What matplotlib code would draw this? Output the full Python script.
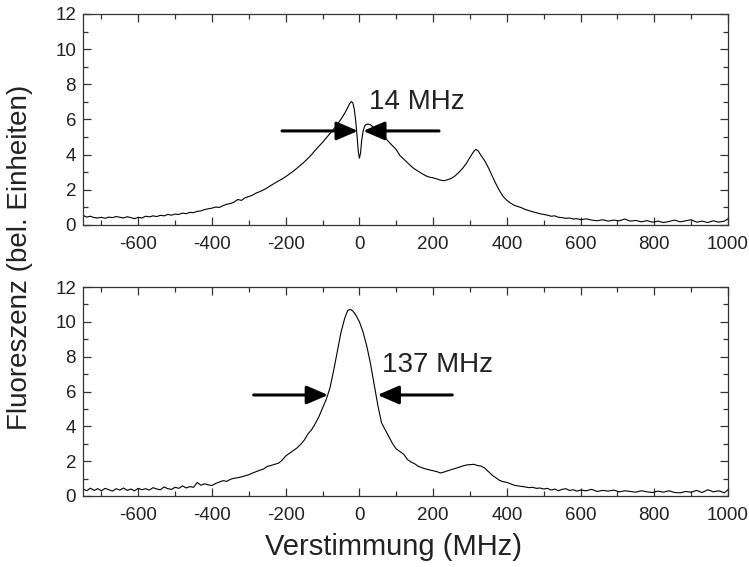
import numpy as np
import matplotlib.pyplot as plt
from matplotlib.ticker import MultipleLocator

plt.rcParams['font.family'] = ['Liberation Sans', 'DejaVu Sans']
plt.rcParams['axes.unicode_minus'] = False

# Fluoreszenzspektren: oben mit Lamb-Dip, unten ohne
det_oben = [-750, -740, -730, -720, -710, -700, -690, -680, -670, -660, -650, -640, -630, -620, -610,
            -600, -590, -580, -570, -560, -550, -540, -530, -520, -510, -500, -490, -480, -470, -460,
            -450, -440, -430, -420, -410, -400, -390, -380, -370, -360, -350, -340, -330, -320, -310,
            -300, -290, -280, -270, -260, -250, -240, -230, -220, -210, -200, -190, -180, -170, -160,
            -150, -140, -130, -120, -110, -100, -90, -80, -70, -60, -50, -40, -32, -26, -22, -18, -14,
            -10, -6, -3, 0, 3, 6, 10, 14, 18, 24, 30, 40, 50, 60, 70, 80, 90, 100, 110, 120, 130, 140,
            150, 160, 170, 180, 190, 200, 210, 220, 230, 240, 250, 260, 270, 280, 290, 300, 310, 316,
            322, 330, 340, 350, 360, 370, 380, 390, 400, 410, 420, 430, 440, 450, 460, 470, 480, 490,
            500, 510, 520, 530, 540, 550, 560, 570, 580, 590, 600, 615, 630, 645, 660, 675, 690, 705,
            720, 735, 750, 765, 780, 795, 810, 825, 840, 855, 870, 885, 900, 915, 930, 945, 960, 975,
            990, 1000]
fl_oben = [0.55, 0.45, 0.50, 0.42, 0.40, 0.44, 0.38, 0.45, 0.42, 0.48, 0.44, 0.40, 0.47, 0.42, 0.36,
           0.44, 0.40, 0.50, 0.46, 0.52, 0.48, 0.55, 0.52, 0.60, 0.56, 0.62, 0.60, 0.68, 0.64, 0.72,
           0.70, 0.78, 0.80, 0.88, 0.92, 0.96, 1.02, 1.00, 1.10, 1.18, 1.22, 1.30, 1.45, 1.40, 1.55,
           1.62, 1.70, 1.82, 1.90, 2.00, 2.12, 2.25, 2.38, 2.50, 2.62, 2.75, 2.90, 3.05, 3.22, 3.40,
           3.58, 3.78, 4.00, 4.25, 4.48, 4.70, 4.95, 5.20, 5.45, 5.72, 6.02, 6.35, 6.68, 6.92, 7.02,
           6.95, 6.60, 5.90, 4.95, 4.15, 3.80, 4.10, 4.80, 5.35, 5.62, 5.72, 5.74, 5.70, 5.52, 5.30,
           5.12, 4.95, 4.72, 4.50, 4.28, 3.95, 3.75, 3.55, 3.35, 3.18, 3.05, 2.92, 2.80, 2.72, 2.68,
           2.62, 2.55, 2.52, 2.58, 2.66, 2.80, 3.00, 3.22, 3.50, 3.85, 4.18, 4.30, 4.22, 3.95, 3.65,
           3.25, 2.80, 2.35, 1.95, 1.62, 1.40, 1.25, 1.12, 1.05, 0.98, 0.88, 0.82, 0.75, 0.70, 0.64,
           0.60, 0.56, 0.50, 0.52, 0.44, 0.42, 0.38, 0.40, 0.34, 0.36, 0.30, 0.35, 0.28, 0.24, 0.30,
           0.22, 0.28, 0.24, 0.34, 0.22, 0.26, 0.18, 0.25, 0.16, 0.22, 0.14, 0.20, 0.28, 0.18, 0.24,
           0.30, 0.16, 0.22, 0.14, 0.24, 0.16, 0.22, 0.35]

det_unten = [-750, -740, -730, -720, -710, -700, -690, -680, -670, -660, -650, -640, -630, -620, -610,
             -600, -590, -580, -570, -560, -550, -540, -530, -520, -510, -500, -490, -480, -470, -460,
             -450, -440, -430, -420, -410, -400, -390, -380, -370, -360, -350, -340, -330, -320, -310,
             -300, -290, -280, -270, -260, -250, -240, -230, -220, -210, -200, -190, -180, -170, -160,
             -150, -140, -130, -120, -110, -100, -90, -80, -70, -60, -50, -40, -32, -25, -18, -10, 0,
             10, 20, 30, 40, 50, 60, 70, 80, 90, 100, 110, 120, 130, 140, 150, 160, 170, 180, 190, 200,
             210, 220, 230, 240, 250, 260, 270, 280, 290, 300, 310, 320, 330, 340, 350, 360, 370, 380,
             390, 400, 410, 420, 430, 440, 450, 460, 470, 480, 490, 500, 510, 520, 530, 540, 550, 560,
             570, 580, 590, 600, 615, 630, 645, 660, 675, 690, 705, 720, 735, 750, 765, 780, 795, 810,
             825, 840, 855, 870, 885, 900, 915, 930, 945, 960, 975, 990, 1000]
fl_unten = [0.40, 0.30, 0.45, 0.32, 0.42, 0.30, 0.44, 0.36, 0.28, 0.42, 0.34, 0.46, 0.32, 0.40, 0.30,
            0.44, 0.36, 0.42, 0.34, 0.48, 0.40, 0.36, 0.52, 0.42, 0.38, 0.50, 0.44, 0.58, 0.46, 0.54,
            0.50, 0.78, 0.62, 0.70, 0.64, 0.60, 0.72, 0.80, 0.88, 0.84, 0.96, 1.02, 1.05, 1.10, 1.16,
            1.22, 1.32, 1.40, 1.48, 1.55, 1.70, 1.75, 1.82, 1.88, 2.05, 2.30, 2.45, 2.60, 2.75, 2.95,
            3.20, 3.55, 3.80, 4.15, 4.55, 5.05, 5.55, 6.20, 7.20, 8.30, 9.40, 10.20, 10.65, 10.72,
            10.62, 10.40, 10.00, 9.40, 8.60, 7.60, 6.40, 5.20, 4.20, 3.80, 3.40, 3.00, 2.70, 2.55,
            2.40, 2.10, 1.95, 1.85, 1.70, 1.62, 1.55, 1.50, 1.45, 1.40, 1.32, 1.38, 1.45, 1.52, 1.58,
            1.65, 1.72, 1.78, 1.80, 1.82, 1.75, 1.72, 1.60, 1.40, 1.20, 1.05, 0.90, 0.82, 0.78, 0.70,
            0.62, 0.58, 0.55, 0.52, 0.48, 0.50, 0.44, 0.46, 0.40, 0.44, 0.34, 0.40, 0.30, 0.38, 0.42,
            0.32, 0.36, 0.28, 0.34, 0.30, 0.38, 0.26, 0.32, 0.28, 0.34, 0.24, 0.30, 0.26, 0.22, 0.30,
            0.24, 0.20, 0.28, 0.22, 0.30, 0.20, 0.18, 0.26, 0.22, 0.32, 0.20, 0.36, 0.24, 0.30, 0.18,
            0.36]

# Breitenmarkierungen: (Schaftende, Spitze) je Pfeil, Hoehe, Beschriftung
breite_oben = {"links": (-210, -4), "rechts": (216, 10), "y": 5.35, "text": "14 MHz", "tx": 26, "ty": 7.0}
breite_unten = {"links": (-287, -85), "rechts": (252, 49), "y": 5.8, "text": "137 MHz", "tx": 62, "ty": 7.5}

fig = plt.figure(figsize=(7.49, 5.67), dpi=100)
ax1 = fig.add_axes([83 / 749, 1 - 225 / 567, 645 / 749, 211 / 567])
ax2 = fig.add_axes([83 / 749, 1 - 496 / 567, 645 / 749, 209 / 567])

for ax, x, y, b in [(ax1, det_oben, fl_oben, breite_oben), (ax2, det_unten, fl_unten, breite_unten)]:
    ax.plot(x, y, color="black", lw=0.8)
    ax.set_xlim(-750, 1000)
    ax.set_ylim(0, 12)
    ax.xaxis.set_major_locator(MultipleLocator(200))
    ax.xaxis.set_minor_locator(MultipleLocator(100))
    ax.yaxis.set_major_locator(MultipleLocator(2))
    ax.yaxis.set_minor_locator(MultipleLocator(1))
    ax.tick_params(which="both", direction="in", top=True, right=True, color="#333333", width=0.9)
    ax.tick_params(which="major", length=6, labelsize=13.5, labelcolor="#222222")
    ax.tick_params(which="minor", length=3.5)
    ax.tick_params(axis="x", pad=8)
    ax.tick_params(axis="y", pad=5)
    for s in ax.spines.values():
        s.set_color("#333333")
        s.set_linewidth(0.9)

    pfeil = dict(arrowstyle="-|>,head_length=0.65,head_width=0.28", lw=2.2, color="black",
                 shrinkA=0, shrinkB=0, mutation_scale=20)
    for seite in ("links", "rechts"):
        tail, tip = b[seite]
        ax.annotate("", xy=(tip, b["y"]), xytext=(tail, b["y"]), arrowprops=pfeil)
    ax.text(b["tx"], b["ty"], b["text"], fontsize=20, ha="left", va="center", color="#222222")

fig.text(393.5 / 749, 1 - 555 / 567, "Verstimmung (MHz)", ha="center", va="baseline",
         fontsize=21, color="#222222")
fig.text(20 / 749, 1 - 257.5 / 567, "Fluoreszenz (bel. Einheiten)", rotation=90,
         ha="center", va="center", fontsize=20, color="#222222")

fig.savefig("out.png", dpi=100)
